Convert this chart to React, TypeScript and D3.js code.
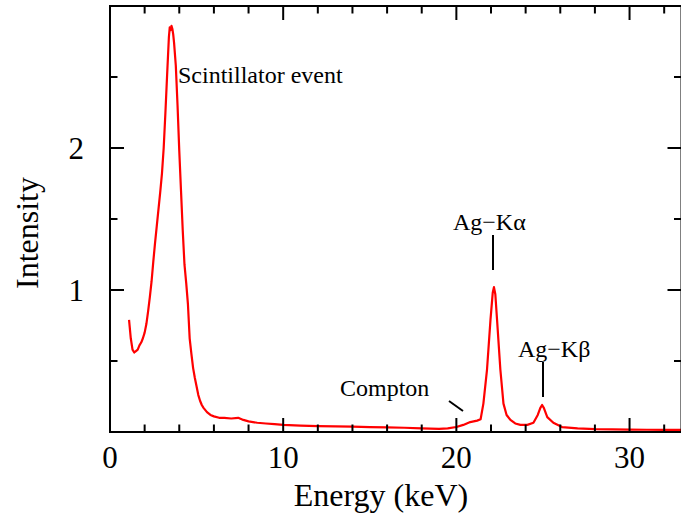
import React from "react";
import * as d3 from "d3";

// Spectrum: energy (keV) and intensity
const energy: number[] = [
  1.1, 1.2, 1.3, 1.4, 1.5, 1.6, 1.7, 1.8, 1.9, 2.0, 2.1, 2.2, 2.3, 2.4, 2.5, 2.6, 2.7, 2.8, 2.9, 3.0,
  3.1, 3.2, 3.3, 3.4, 3.45, 3.5, 3.55, 3.6, 3.65, 3.7, 3.8, 3.9, 4.0, 4.1, 4.2, 4.3, 4.4, 4.5, 4.6, 4.7,
  4.8, 4.9, 5.0, 5.1, 5.2, 5.3, 5.4, 5.6, 5.8, 6.0, 6.3, 6.6, 7.0, 7.4, 7.7, 8.0, 8.5, 9.0, 9.5, 10.0,
  11.0, 12.0, 13.0, 14.0, 15.0, 16.0, 17.0, 18.0, 19.0, 19.5, 20.0, 20.4, 20.8, 21.2, 21.4, 21.56, 21.77, 21.97, 22.1, 22.17,
  22.25, 22.35, 22.54, 22.72, 22.9, 23.12, 23.4, 23.7, 24.1, 24.45, 24.7, 24.85, 24.95, 25.05, 25.25, 25.6, 26.1, 27.0, 28.0, 29.0,
  30.0, 31.0, 32.0, 33.2,
];
const intensity: number[] = [
  0.79, 0.66, 0.58, 0.56, 0.57, 0.58, 0.61, 0.63, 0.66, 0.7, 0.76, 0.85, 0.95, 1.06, 1.2, 1.33, 1.45, 1.57, 1.69, 1.82,
  2.0, 2.25, 2.52, 2.78, 2.85, 2.83, 2.86, 2.84, 2.8, 2.74, 2.58, 2.3, 1.98, 1.7, 1.42, 1.18, 1.05, 0.9, 0.66, 0.55,
  0.45, 0.38, 0.32, 0.26, 0.22, 0.19, 0.17, 0.14, 0.12, 0.11, 0.1, 0.1, 0.095, 0.1, 0.085, 0.075, 0.065, 0.06, 0.055, 0.05,
  0.045, 0.042, 0.04, 0.038, 0.035, 0.032, 0.03, 0.025, 0.022, 0.025, 0.035, 0.05, 0.07, 0.08, 0.09, 0.2, 0.44, 0.79, 0.98, 1.02,
  0.97, 0.79, 0.44, 0.2, 0.12, 0.085, 0.06, 0.05, 0.05, 0.065, 0.12, 0.17, 0.19, 0.17, 0.105, 0.065, 0.035, 0.025, 0.02, 0.018,
  0.017, 0.016, 0.015, 0.015,
];

const xMinorTicks: number[] = [0, 2, 4, 6, 8, 10, 12, 14, 16, 18, 20, 22, 24, 26, 28, 30, 32];
const xMajorTicks: number[] = [0, 10, 20, 30];
const yMinorTicks: number[] = [0, 0.5, 1, 1.5, 2, 2.5, 3];
const yMajorTicks: number[] = [0, 1, 2, 3];
const xTickLabels: number[] = [0, 10, 20, 30];
const yTickLabels: number[] = [1, 2];

const W = 681;
const H = 515;
const L = 110, R = 681.5, T = 6, B = 432;
const FONT = "Liberation Serif, Times New Roman, Times, DejaVu Serif, serif";

export default function App() {
  const x = d3.scaleLinear().domain([0, 33]).range([L, R]);
  const y = d3.scaleLinear().domain([0, 3]).range([B, T]);
  const pts: [number, number][] = energy.map((e, i) => [e, intensity[i]]);
  const line = d3
    .line<[number, number]>()
    .x((d) => x(d[0]))
    .y((d) => y(d[1]));

  const ticks: React.ReactNode[] = [];
  xMinorTicks.forEach((v) => {
    const len = xMajorTicks.includes(v) ? 14 : 7.5;
    const px = x(v);
    ticks.push(<line key={"xb" + v} x1={px} x2={px} y1={B} y2={B - len} />);
    ticks.push(<line key={"xt" + v} x1={px} x2={px} y1={T} y2={T + len} />);
  });
  yMinorTicks.forEach((v) => {
    const len = yMajorTicks.includes(v) ? 14 : 7.5;
    const py = y(v);
    ticks.push(<line key={"yl" + v} x1={L} x2={L + len} y1={py} y2={py} />);
    ticks.push(<line key={"yr" + v} x1={R} x2={R - len} y1={py} y2={py} />);
  });

  const ts: React.CSSProperties = { fontFamily: FONT };

  return (
    <svg
      width={W}
      height={H}
      style={{ position: "absolute", left: 0, top: 0, background: "#fff", fontFamily: FONT }}
    >
      <rect x={0} y={0} width={W} height={H} fill="#fff" />
      <path d={line(pts) || ""} fill="none" stroke="#ff0000" strokeWidth={2.2} strokeLinejoin="round" />
      <g stroke="#000" strokeWidth={2}>
        {ticks}
        <rect x={L} y={T} width={R - L} height={B - T} fill="none" />
      </g>
      {xTickLabels.map((v) => (
        <text key={"xl" + v} style={ts} x={x(v)} y={468} textAnchor="middle" fontSize={31} fill="#000">
          {v}
        </text>
      ))}
      {yTickLabels.map((v) => (
        <text key={"yl" + v} style={ts} x={84} y={y(v) + 10.5} textAnchor="end" fontSize={31} fill="#000">
          {v}
        </text>
      ))}
      <text style={ts} x={381} y={506} textAnchor="middle" fontSize={32} fill="#000">
        Energy (keV)
      </text>
      <text style={ts} transform="translate(38,233) rotate(-90)" textAnchor="middle" fontSize={32} fill="#000">
        Intensity
      </text>
      <g fill="#000" fontSize={24}>
        <text style={ts} x={178} y={83}>Scintillator event</text>
        <text style={ts} x={453} y={230}>Ag−Kα</text>
        <text style={ts} x={518} y={357}>Ag−Kβ</text>
        <text style={ts} x={340} y={396}>Compton</text>
      </g>
      <g stroke="#000" strokeWidth={2}>
        <line x1={493} x2={493} y1={235} y2={270} />
        <line x1={543} x2={543} y1={362} y2={397} />
        <line x1={449} x2={463} y1={401} y2={411} />
      </g>
    </svg>
  );
}
